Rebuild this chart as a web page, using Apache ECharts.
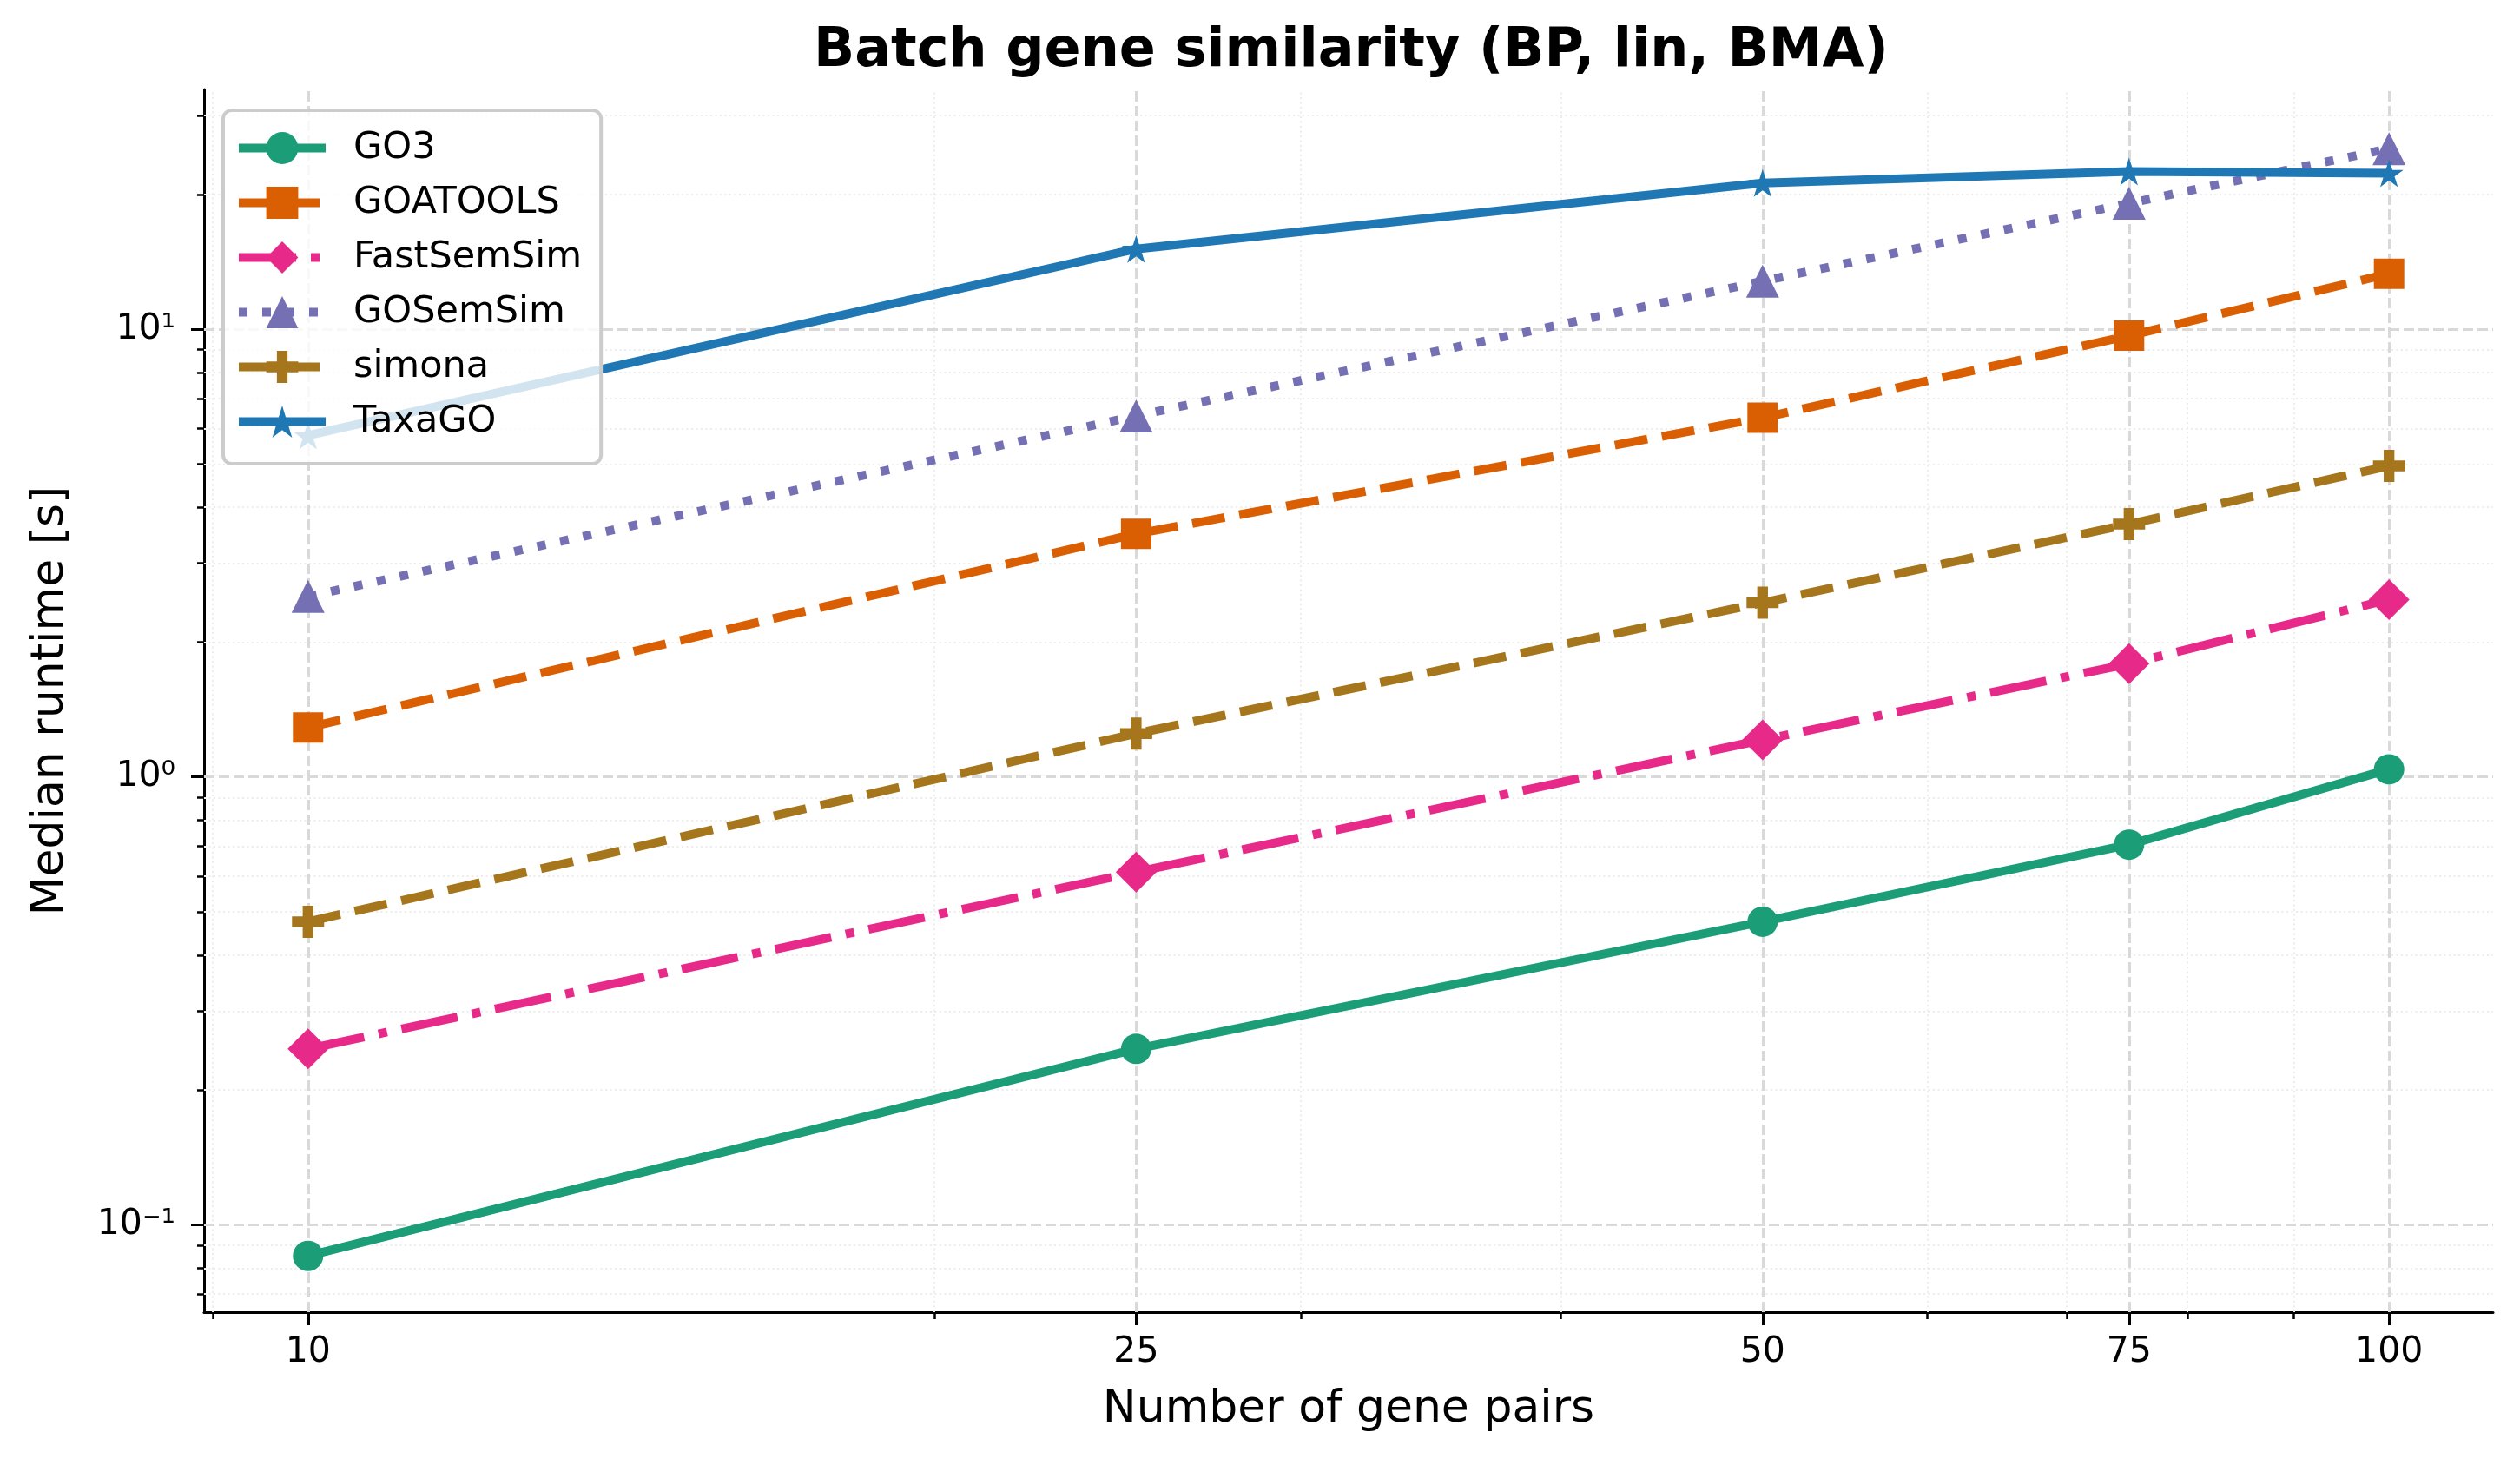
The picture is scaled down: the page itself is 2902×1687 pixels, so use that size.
<!DOCTYPE html>
<html>
<head>
<meta charset="utf-8">
<title>Batch gene similarity</title>
<script src="https://cdn.jsdelivr.net/npm/echarts@6/dist/echarts.min.js"></script>
<style>
  html, body { margin: 0; padding: 0; background: #fff; }
  #chart { width: 2902px; height: 1687px; }
</style>
</head>
<body>
<div id="chart"></div>
<script>
// gene pair counts (x) and median runtimes in seconds (y)
const pairCounts = [10, 25, 50, 75, 100]
const go3 = [0.0852, 0.247, 0.475, 0.706, 1.04]
const goatools = [1.29, 3.49, 6.34, 9.67, 13.3]
const fastSemSim = [0.247, 0.613, 1.21, 1.79, 2.49]
const goSemSim = [2.53, 6.4, 12.8, 19.1, 25.3]
const simona = [0.475, 1.25, 2.45, 3.67, 4.95]
const taxaGO = [5.79, 15.1, 21.2, 22.5, 22.3]

// tick positions / labels
const xTicks = [10, 25, 50, 75, 100]
const xMinorTicks = [9, 20, 30, 40, 60, 70, 80, 90]
const yTicks = [0.1, 1, 10]
const yTickLabels = ['10⁻¹', '10⁰', '10¹']
const yMinorTicks = [0.07, 0.08, 0.09, 0.2, 0.3, 0.4, 0.5, 0.6, 0.7, 0.8, 0.9,
  2, 3, 4, 5, 6, 7, 8, 9, 20, 30]

const FONT = 'DejaVu Sans'
const X_MIN = 8.913
const X_MAX = 112.2
const Y_MIN = 0.0638
const Y_MAX = 34.3

// filled plus (matplotlib 'P') and 5 point star (matplotlib '*')
const PLUS = 'path://M1,0L2,0L2,1L3,1L3,2L2,2L2,3L1,3L1,2L0,2L0,1L1,1Z'
const STAR = 'path://M0,-100L22.45,-30.9L95.1,-30.9L36.33,11.8L58.78,80.9L0,38.2L-58.78,80.9L-36.33,11.8L-95.1,-30.9L-22.45,-30.9Z'

function pairs(vals) {
  return pairCounts.map((x, i) => [x, vals[i]])
}

function lineSeries(name, vals, color, dash, symbol, size) {
  return {
    name: name,
    type: 'line',
    xAxisIndex: 0,
    yAxisIndex: 0,
    data: pairs(vals),
    z: 3,
    symbol: symbol,
    symbolSize: size,
    showSymbol: true,
    color: color,
    itemStyle: { color: color, opacity: 1 },
    lineStyle: { color: color, width: 10, type: dash, cap: 'butt' },
    emphasis: { disabled: true }
  }
}

// grid lines drawn as mark lines in data coordinates, kept under the series
function gridSeries(xVals, yVals, lineStyle) {
  return {
    type: 'line',
    xAxisIndex: 0,
    yAxisIndex: 0,
    data: [],
    z: 1,
    silent: true,
    markLine: {
      z: 1,
      silent: true,
      symbol: ['none', 'none'],
      animation: false,
      label: { show: false },
      emphasis: { disabled: true },
      lineStyle: lineStyle,
      data: xVals.map(v => ({ xAxis: v })).concat(yVals.map(v => ({ yAxis: v })))
    }
  }
}

const chart = echarts.init(document.getElementById('chart'), null, { renderer: 'canvas' })

const option = {
  backgroundColor: '#fff',
  animation: false,
  textStyle: { fontFamily: FONT },
  title: {
    text: 'Batch gene similarity (BP, lin, BMA)',
    left: 932,
    top: 24,
    textStyle: { fontFamily: FONT, fontSize: 62, fontWeight: 'bold', color: '#000' }
  },
  grid: { left: 235, right: 31, top: 103, bottom: 176, containLabel: false },
  legend: {
    orient: 'vertical',
    left: 257,
    top: 127,
    padding: [22, 22, 27, 13],
    itemWidth: 100,
    itemHeight: 46,
    itemGap: 20,
    backgroundColor: 'rgba(255,255,255,0.8)',
    borderColor: '#cccccc',
    borderWidth: 4,
    borderRadius: 10,
    selectedMode: false,
    lineStyle: { width: 10, type: 'inherit', cap: 'butt' },
    textStyle: { fontFamily: FONT, fontSize: 43, color: '#000', padding: [0, 0, 0, 27] },
    data: ['GO3', 'GOATOOLS', 'FastSemSim', 'GOSemSim', 'simona', 'TaxaGO']
  },
  xAxis: [
    {
      type: 'log',
      logBase: 10,
      min: X_MIN,
      max: X_MAX,
      position: 'bottom',
      name: 'Number of gene pairs',
      nameLocation: 'middle',
      nameGap: 86,
      nameTextStyle: { fontFamily: FONT, fontSize: 52, color: '#000' },
      axisLine: { show: true, lineStyle: { color: '#000', width: 3 } },
      axisTick: { show: true, customValues: xTicks, length: 15, lineStyle: { color: '#000', width: 3 } },
      axisLabel: {
        show: true,
        customValues: xTicks,
        margin: 26,
        fontFamily: FONT,
        fontSize: 41,
        color: '#000',
        formatter: v => String(Math.round(v))
      },
      splitLine: { show: false },
      minorTick: { show: false }
    },
    {
      type: 'log',
      logBase: 10,
      min: X_MIN,
      max: X_MAX,
      position: 'bottom',
      axisLine: { show: false },
      axisTick: { show: true, customValues: xMinorTicks, length: 8, lineStyle: { color: '#000', width: 2.5 } },
      axisLabel: { show: false },
      splitLine: { show: false }
    }
  ],
  yAxis: [
    {
      type: 'log',
      logBase: 10,
      min: Y_MIN,
      max: Y_MAX,
      position: 'left',
      name: 'Median runtime [s]',
      nameLocation: 'middle',
      nameGap: 151,
      nameTextStyle: { fontFamily: FONT, fontSize: 52, color: '#000' },
      axisLine: { show: true, lineStyle: { color: '#000', width: 3 } },
      axisTick: { show: true, customValues: yTicks, length: 15, lineStyle: { color: '#000', width: 3 } },
      axisLabel: {
        show: true,
        customValues: yTicks,
        margin: 33,
        fontFamily: FONT,
        fontSize: 41,
        color: '#000',
        formatter: v => {
          const i = yTicks.findIndex(t => Math.abs(Math.log10(t) - Math.log10(v)) < 1e-6)
          return i >= 0 ? yTickLabels[i] : ''
        }
      },
      splitLine: { show: false }
    },
    {
      type: 'log',
      logBase: 10,
      min: Y_MIN,
      max: Y_MAX,
      position: 'left',
      axisLine: { show: false },
      axisTick: { show: true, customValues: yMinorTicks, length: 8, lineStyle: { color: '#000', width: 2.5 } },
      axisLabel: { show: false },
      splitLine: { show: false }
    }
  ],
  series: [
    gridSeries(xMinorTicks, yMinorTicks, { color: '#ececec', width: 2, type: [2, 3.5] }),
    gridSeries(xTicks, yTicks, { color: '#d9d9d9', width: 3, type: [12, 5] }),
    lineSeries('GO3', go3, '#1b9e77', 'solid', 'circle', 35),
    lineSeries('GOATOOLS', goatools, '#d95f02', [38, 17], 'rect', 35),
    lineSeries('FastSemSim', fastSemSim, '#e7298a', [66, 17, 10, 17], 'diamond', 47),
    lineSeries('GOSemSim', goSemSim, '#7570b3', [10, 17], 'triangle', 38),
    lineSeries('simona', simona, '#a6761d', [38, 17], PLUS, 37),
    lineSeries('TaxaGO', taxaGO, '#1f77b4', 'solid', STAR, [33, 32])
  ]
}

chart.setOption(option)
</script>
</body>
</html>
